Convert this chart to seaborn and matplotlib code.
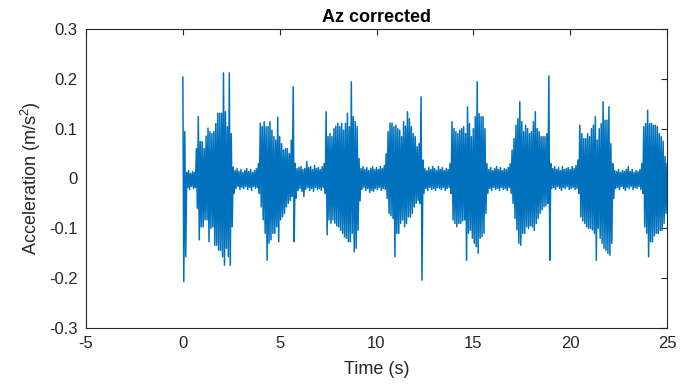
import numpy as np
import pandas as pd
import matplotlib
matplotlib.use("Agg")
import matplotlib.pyplot as plt
import seaborn as sns

# Envelope of the signal, one pair of values every 0.1 s
sample_step = 0.1
upper_peak = [
    0.204, 0.094, 0.012, 0.016, 0.010, 0.014, 0.012, 0.060, 0.124, 0.074,
    0.074, 0.060, 0.085, 0.101, 0.094, 0.090, 0.094, 0.110, 0.131, 0.131,
    0.131, 0.212, 0.134, 0.104, 0.212, 0.090, 0.023, 0.016, 0.020, 0.014,
    0.018, 0.012, 0.016, 0.020, 0.014, 0.018, 0.012, 0.016, 0.020, 0.030,
    0.111, 0.104, 0.114, 0.104, 0.104, 0.114, 0.097, 0.084, 0.077, 0.123,
    0.084, 0.070, 0.057, 0.060, 0.060, 0.050, 0.077, 0.184, 0.030, 0.020,
    0.022, 0.024, 0.018, 0.020, 0.034, 0.022, 0.024, 0.018, 0.026, 0.020,
    0.022, 0.018, 0.024, 0.030, 0.134, 0.084, 0.090, 0.084, 0.100, 0.105,
    0.111, 0.104, 0.111, 0.097, 0.111, 0.131, 0.104, 0.194, 0.124, 0.114,
    0.104, 0.040, 0.020, 0.024, 0.018, 0.022, 0.016, 0.020, 0.024, 0.018,
    0.022, 0.018, 0.024, 0.020, 0.026, 0.050, 0.094, 0.111, 0.111, 0.104,
    0.107, 0.100, 0.097, 0.084, 0.114, 0.105, 0.134, 0.120, 0.104, 0.090,
    0.084, 0.064, 0.070, 0.164, 0.037, 0.020, 0.016, 0.022, 0.018, 0.024,
    0.020, 0.016, 0.024, 0.018, 0.022, 0.016, 0.020, 0.018, 0.030, 0.114,
    0.100, 0.094, 0.090, 0.097, 0.100, 0.104, 0.090, 0.144, 0.110, 0.084,
    0.100, 0.124, 0.194, 0.130, 0.124, 0.124, 0.100, 0.030, 0.018, 0.022,
    0.016, 0.020, 0.024, 0.018, 0.022, 0.016, 0.020, 0.018, 0.022, 0.030,
    0.057, 0.080, 0.107, 0.120, 0.154, 0.114, 0.094, 0.107, 0.100, 0.090,
    0.094, 0.114, 0.134, 0.100, 0.094, 0.084, 0.084, 0.084, 0.090, 0.206,
    0.030, 0.020, 0.024, 0.018, 0.022, 0.016, 0.024, 0.018, 0.020, 0.022,
    0.018, 0.024, 0.020, 0.026, 0.037, 0.107, 0.090, 0.080, 0.080, 0.090,
    0.084, 0.100, 0.107, 0.124, 0.077, 0.100, 0.110, 0.154, 0.117, 0.117,
    0.144, 0.070, 0.030, 0.016, 0.014, 0.018, 0.012, 0.016, 0.014, 0.018,
    0.024, 0.014, 0.018, 0.012, 0.016, 0.014, 0.018, 0.030, 0.104, 0.110,
    0.137, 0.110, 0.111, 0.107, 0.107, 0.104, 0.090, 0.084, 0.075, 0.044,
    0.030,
]
lower_peak = [
    -0.207, -0.157, -0.018, -0.022, -0.016, -0.020, -0.018, -0.060, -0.123, -0.097,
    -0.097, -0.083, -0.083, -0.127, -0.100, -0.097, -0.134, -0.134, -0.144, -0.144,
    -0.157, -0.174, -0.140, -0.157, -0.174, -0.097, -0.030, -0.020, -0.016, -0.022,
    -0.018, -0.020, -0.016, -0.022, -0.018, -0.024, -0.016, -0.020, -0.018, -0.030,
    -0.057, -0.083, -0.110, -0.164, -0.130, -0.123, -0.110, -0.110, -0.097, -0.127,
    -0.083, -0.077, -0.070, -0.057, -0.050, -0.044, -0.036, -0.127, -0.040, -0.024,
    -0.020, -0.026, -0.036, -0.022, -0.018, -0.024, -0.020, -0.026, -0.018, -0.022,
    -0.020, -0.024, -0.018, -0.030, -0.113, -0.083, -0.090, -0.083, -0.090, -0.095,
    -0.097, -0.104, -0.110, -0.117, -0.120, -0.127, -0.127, -0.110, -0.147, -0.140,
    -0.104, -0.045, -0.022, -0.018, -0.024, -0.020, -0.028, -0.024, -0.026, -0.020,
    -0.022, -0.018, -0.024, -0.020, -0.022, -0.040, -0.070, -0.075, -0.080, -0.157,
    -0.110, -0.110, -0.090, -0.083, -0.097, -0.090, -0.077, -0.077, -0.070, -0.057,
    -0.050, -0.044, -0.050, -0.204, -0.030, -0.020, -0.024, -0.018, -0.022, -0.020,
    -0.024, -0.018, -0.020, -0.022, -0.018, -0.024, -0.020, -0.018, -0.030, -0.083,
    -0.090, -0.097, -0.090, -0.090, -0.085, -0.083, -0.164, -0.110, -0.104, -0.120,
    -0.130, -0.137, -0.150, -0.120, -0.117, -0.110, -0.070, -0.030, -0.020, -0.024,
    -0.018, -0.022, -0.020, -0.024, -0.018, -0.022, -0.020, -0.024, -0.018, -0.030,
    -0.050, -0.080, -0.103, -0.130, -0.134, -0.110, -0.110, -0.097, -0.100, -0.095,
    -0.097, -0.104, -0.090, -0.080, -0.070, -0.063, -0.057, -0.055, -0.050, -0.164,
    -0.020, -0.018, -0.022, -0.016, -0.020, -0.024, -0.018, -0.020, -0.016, -0.022,
    -0.020, -0.018, -0.022, -0.020, -0.030, -0.077, -0.085, -0.090, -0.097, -0.100,
    -0.100, -0.103, -0.110, -0.164, -0.100, -0.120, -0.130, -0.140, -0.144, -0.150,
    -0.154, -0.130, -0.040, -0.020, -0.018, -0.022, -0.016, -0.020, -0.024, -0.018,
    -0.020, -0.016, -0.022, -0.018, -0.020, -0.016, -0.022, -0.030, -0.097, -0.110,
    -0.157, -0.127, -0.127, -0.115, -0.110, -0.110, -0.104, -0.104, -0.090, -0.070,
    -0.040,
]
x_ticks = [-5, 0, 5, 10, 15, 20, 25]
y_ticks = [-0.3, -0.2, -0.1, 0, 0.1, 0.2, 0.3]
y_tick_labels = ["-0.3", "-0.2", "-0.1", "0", "0.1", "0.2", "0.3"]
x_tick_labels = ["-5", "0", "5", "10", "15", "20", "25"]

# Build the trace: each upper peak followed by the lower peak half a step later
n = len(upper_peak)
t_up = np.arange(n) * sample_step
t_lo = t_up + sample_step / 2
times = np.empty(2 * n)
values = np.empty(2 * n)
times[0::2] = t_up
times[1::2] = t_lo
values[0::2] = upper_peak
values[1::2] = lower_peak
df = pd.DataFrame({"Time (s)": times, "Acceleration": values})

sns.set_theme(style="white")
plt.rcParams["font.family"] = ["Liberation Sans", "DejaVu Sans"]
plt.rcParams["mathtext.fontset"] = "custom"
plt.rcParams["mathtext.rm"] = "Liberation Sans"
plt.rcParams["mathtext.default"] = "regular"

fig = plt.figure(figsize=(6.96, 3.89), dpi=100)
ax = fig.add_axes([86 / 696, 1 - 328 / 389, (667 - 86) / 696, (328 - 29) / 389])

sns.lineplot(data=df, x="Time (s)", y="Acceleration", sort=False, estimator=None,
             color="#0072BD", linewidth=1.1, ax=ax)

ax.set_xlim(-5, 25)
ax.set_ylim(-0.3, 0.3)
ax.set_xticks(x_ticks)
ax.set_xticklabels(x_tick_labels)
ax.set_yticks(y_ticks)
ax.set_yticklabels(y_tick_labels)
dark = "#262626"
ax.tick_params(direction="in", length=4, width=0.8, top=True, right=True,
               labelsize=12, colors=dark, pad=6)
for s in ax.spines.values():
    s.set_visible(True)
    s.set_color(dark)
    s.set_linewidth(0.8)
ax.set_xlabel("Time (s)", fontsize=13, color=dark, labelpad=7)
ax.set_ylabel("Acceleration (m/s$^{2}$)", fontsize=13, color=dark, labelpad=4)
ax.set_title("Az corrected", fontsize=13, fontweight="bold", color="black", pad=5)

fig.savefig("out.png", dpi=100)
